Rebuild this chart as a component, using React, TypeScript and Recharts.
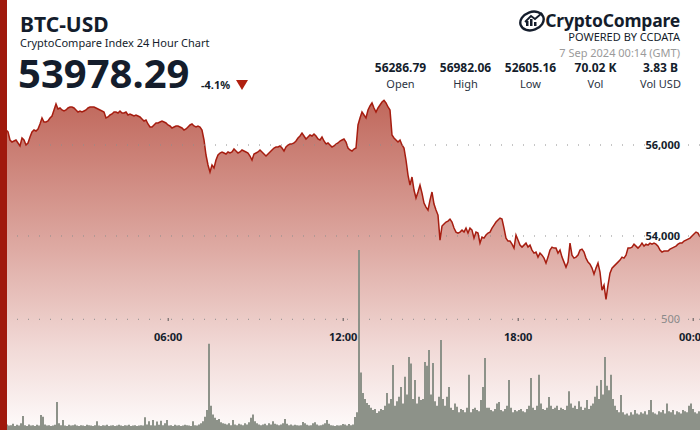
import React from "react";
import { ComposedChart, Area, XAxis, YAxis, ReferenceLine } from "recharts";

// Price (USD) sampled evenly over the 24h window starting 6 Sep 00:14 GMT
const priceValues: number[] = [
  56374, 56396, 56352, 56330, 56287, 56110, 56066, 56088, 56110, 56044,
  55978, 56154, 56110, 56000, 56044, 56176, 56286, 56330, 56308, 56352,
  56462, 56594, 56506, 56506, 56528, 56594, 56638, 56770, 56902, 56792,
  56814, 56770, 56748, 56770, 56814, 56836, 56836, 56814, 56770, 56726,
  56748, 56726, 56748, 56770, 56814, 56836, 56836, 56836, 56814, 56792,
  56770, 56748, 56726, 56594, 56616, 56660, 56682, 56726, 56726, 56704,
  56748, 56704, 56704, 56726, 56660, 56682, 56660, 56638, 56660, 56638,
  56616, 56572, 56528, 56550, 56462, 56396, 56396, 56440, 56484, 56484,
  56506, 56528, 56506, 56484, 56440, 56418, 56374, 56396, 56418, 56418,
  56396, 56374, 56330, 56352, 56396, 56440, 56462, 56418, 56396, 56418,
  56396, 56330, 56110, 55780, 55560, 55406, 55560, 55494, 55670, 55780,
  55824, 55846, 55824, 55802, 55846, 55824, 55846, 55912, 55868, 55824,
  55846, 55890, 55868, 55846, 55824, 55758, 55670, 55802, 55824, 55846,
  55890, 55846, 55802, 55758, 55802, 55846, 55890, 55934, 55956, 55956,
  55978, 55934, 55868, 55956, 56000, 56022, 56022, 56044, 56088, 56154,
  56198, 56264, 56198, 56132, 56176, 56220, 56198, 56242, 56198, 56132,
  56110, 56176, 56088, 56022, 56044, 56000, 55956, 55978, 56022, 56044,
  56088, 56110, 56132, 56066, 55934, 55890, 55868, 55912, 55934, 56440,
  56594, 56726, 56660, 56594, 56770, 56858, 56924, 56814, 56726, 56814,
  56880, 56946, 56982, 56924, 56836, 56770, 56220, 56154, 56110, 56066,
  56110, 56000, 55934, 55670, 55340, 55120, 55296, 55010, 54834, 54966,
  55120, 54944, 54724, 54636, 54570, 54790, 54966, 54702, 54570, 54460,
  53910, 54218, 54262, 54306, 54328, 54372, 54306, 54174, 54086, 54064,
  54086, 54130, 54086, 54174, 54064, 54174, 54130, 53954, 54086, 54064,
  53844, 53976, 53954, 54020, 54064, 54086, 54174, 54240, 54306, 54350,
  54394, 54372, 54174, 53954, 53888, 53888, 53822, 53734, 54020, 53910,
  53800, 53756, 53800, 53844, 53756, 53800, 53690, 53624, 53646, 53536,
  53624, 53580, 53514, 53404, 53536, 53690, 53756, 53734, 53734, 53624,
  53690, 53536, 53426, 53316, 53426, 53844, 53580, 53514, 53536, 53580,
  53690, 53712, 53646, 53514, 53426, 53382, 53294, 53162, 53294, 53404,
  53206, 52810, 52920, 52605, 52920, 53184, 53294, 53338, 53382, 53426,
  53470, 53536, 53514, 53580, 53734, 53734, 53756, 53822, 53778, 53734,
  53778, 53844, 53778, 53822, 53800, 53844, 53822, 53844, 53822, 53778,
  53690, 53646, 53668, 53668, 53668, 53712, 53734, 53756, 53778, 53822,
  53844, 53844, 53888, 53910, 53932, 53954, 53998, 54042, 54086, 54064,
  53978,
];

// Volume (BTC) per sample
const volumeValues: number[] = [
  20, 22, 18, 25, 20, 22, 28, 18, 24, 20,
  30, 63, 22, 18, 25, 20, 22, 18, 24, 20,
  68, 60, 25, 20, 22, 18, 20, 24, 126, 30,
  22, 45, 20, 18, 24, 20, 22, 25, 20, 18,
  22, 20, 18, 24, 22, 20, 18, 22, 40, 20,
  18, 22, 20, 24, 18, 20, 22, 18, 20, 24,
  20, 18, 22, 20, 24, 18, 20, 22, 18, 20,
  22, 20, 58, 25, 40, 22, 45, 20, 38, 24,
  42, 22, 30, 45, 20, 22, 18, 24, 20, 22,
  18, 20, 24, 22, 20, 18, 40, 22, 20, 25,
  30, 40, 60, 90, 390, 110, 70, 55, 45, 50,
  35, 30, 28, 25, 30, 22, 45, 25, 22, 28,
  25, 22, 30, 25, 35, 55, 70, 40, 30, 25,
  22, 25, 28, 22, 30, 25, 40, 28, 25, 22,
  25, 30, 50, 28, 22, 25, 20, 24, 22, 20,
  22, 36, 30, 24, 20, 22, 30, 35, 25, 20,
  22, 25, 30, 45, 28, 22, 20, 18, 22, 20,
  22, 27, 25, 20, 27, 22, 25, 59, 80, 813,
  260, 167, 140, 122, 113, 100, 90, 95, 77, 85,
  95, 90, 110, 167, 120, 140, 294, 110, 130, 150,
  194, 120, 240, 160, 330, 300, 140, 226, 120, 150,
  135, 140, 307, 290, 361, 160, 303, 130, 110, 150,
  406, 140, 110, 150, 194, 100, 90, 120, 105, 80,
  95, 90, 80, 100, 249, 80, 95, 100, 90, 85,
  136, 194, 325, 100, 100, 90, 85, 95, 120, 126,
  90, 85, 95, 110, 226, 100, 80, 90, 85, 90,
  95, 85, 80, 95, 110, 235, 100, 90, 110, 249,
  120, 95, 90, 100, 149, 110, 95, 100, 110, 90,
  100, 95, 90, 110, 175, 120, 100, 110, 95, 130,
  105, 90, 100, 136, 95, 110, 120, 150, 200, 140,
  226, 160, 330, 200, 180, 250, 140, 110, 90, 80,
  158, 80, 70, 75, 65, 80, 70, 90, 75, 70,
  80, 75, 85, 70, 90, 136, 80, 75, 70, 85,
  80, 90, 75, 120, 85, 80, 90, 70, 85, 80,
  75, 90, 85, 80, 110, 120, 95, 80, 75, 85,
  80,
];

// minutes after the window start (00:14) for each labelled hour
const tickMinutes: number[] = [346, 706, 1066, 1426];
const tickLabels: string[] = ["06:00", "12:00", "18:00", "00:00"];
const priceTicks: number[] = [54000, 56000];
const priceTickLabels: string[] = ["54,000", "56,000"];
const volumeTicks: number[] = [500];

const statValues: string[] = ["56286.79", "56982.06", "52605.16", "70.02 K", "3.83 B"];
const statLabels: string[] = ["Open", "High", "Low", "Vol", "Vol USD"];

const WINDOW = 1440;
const data = priceValues.map((p, i) => ({
  t: (i * WINDOW) / (priceValues.length - 1),
  price: p,
  vol: volumeValues[i],
}));

const NAVY = "#141d2c";
const FONT = "'Noto Sans', 'Open Sans', sans-serif";

const timeLabel = (text: string) => (props: any) => {
  const vb = props.viewBox || {};
  const x = vb.x ?? 0;
  return (
    <g>
      <line x1={x} x2={x} y1={318} y2={321} stroke="#555" strokeWidth={1} />
      <text x={x} y={341} textAnchor="middle" fontFamily={FONT} fontWeight={700} fontSize={11} fill={NAVY}>
        {text}
      </text>
    </g>
  );
};

const valueLabel = (text: string, color: string, bold: boolean) => (props: any) => {
  const vb = props.viewBox || {};
  const y = vb.y ?? 0;
  return (
    <text x={680} y={y + 4} textAnchor="end" fontFamily={FONT} fontWeight={bold ? 700 : 400} fontSize={11} fill={color}>
      {text}
    </text>
  );
};

const Logo = () => (
  <svg width={30} height={22} viewBox="0 0 30 22" style={{ position: "absolute", left: 518, top: 10 }}>
    <ellipse cx={14} cy={11} rx={12} ry={9} fill="none" stroke={NAVY} strokeWidth={2.4} transform="rotate(-20 14 11)" />
    <rect x={8} y={11} width={2.5} height={5} fill={NAVY} />
    <rect x={12} y={9} width={2.5} height={7} fill={NAVY} />
    <rect x={16} y={12} width={2.5} height={4} fill={NAVY} />
    <path d="M7 12 L13 6 L17 9 L24 3" fill="none" stroke={NAVY} strokeWidth={1.8} />
  </svg>
);

export default function App() {
  return (
    <div style={{ position: "absolute", left: 0, top: 0, width: 700, height: 430, background: "#fff", overflow: "hidden", fontFamily: FONT }}>
      <ComposedChart width={700} height={430} data={data} margin={{ top: 0, right: 0, bottom: 0, left: 0 }}>
        <defs>
          <linearGradient id="priceFill" x1="0" y1="0" x2="0" y2="1">
            <stop offset="0%" stopColor="#c0685c" />
            <stop offset="45%" stopColor="#deaaa3" />
            <stop offset="75%" stopColor="#f1d9d6" />
            <stop offset="100%" stopColor="#fefbfb" />
          </linearGradient>
        </defs>
        <XAxis dataKey="t" type="number" domain={[0, WINDOW]} ticks={tickMinutes} hide allowDataOverflow />
        <YAxis yAxisId="price" orientation="right" type="number" domain={[49736, 59187]} ticks={priceTicks} hide allowDataOverflow />
        <YAxis yAxisId="vol" orientation="right" type="number" domain={[0, 1942]} ticks={volumeTicks} hide allowDataOverflow />
        <Area
          yAxisId="price"
          type="linear"
          dataKey="price"
          stroke="#a61d10"
          strokeWidth={1.5}
          fill="url(#priceFill)"
          fillOpacity={1}
          isAnimationActive={false}
          dot={false}
          activeDot={false}
        />
        <Area
          yAxisId="vol"
          type="stepAfter"
          dataKey="vol"
          stroke="none"
          fill="#8d9289"
          fillOpacity={1}
          isAnimationActive={false}
          dot={false}
          activeDot={false}
        />
        {priceTicks.map((v, i) => (
          <ReferenceLine
            key={"p" + v}
            yAxisId="price"
            y={v}
            stroke="#8c8c8c"
            strokeDasharray="1 10"
            strokeWidth={1}
            label={valueLabel(priceTickLabels[i], NAVY, true)}
          />
        ))}
        {volumeTicks.map((v) => (
          <ReferenceLine
            key={"v" + v}
            yAxisId="vol"
            y={v}
            stroke="#8c8c8c"
            strokeDasharray="1 10"
            strokeWidth={1}
            label={valueLabel(String(v), "#8a8a8a", false)}
          />
        ))}
        {tickMinutes.map((m, i) => (
          <ReferenceLine key={"x" + m} yAxisId="price" x={m} stroke="none" label={timeLabel(tickLabels[i])} />
        ))}
      </ComposedChart>

      <div style={{ position: "absolute", left: 0, top: 0, width: 7, height: 430, background: "#a0190d" }} />

      <div style={{ position: "absolute", left: 20, top: 14, fontSize: 21, fontWeight: 700, color: NAVY, lineHeight: "21px" }}>BTC-USD</div>
      <div style={{ position: "absolute", left: 20, top: 36, fontSize: 11, color: NAVY, lineHeight: "13px" }}>CryptoCompare Index 24 Hour Chart</div>
      <div style={{ position: "absolute", left: 18, top: 53, fontSize: 40, fontWeight: 700, color: NAVY, lineHeight: "40px" }}>53978.29</div>
      <div style={{ position: "absolute", left: 201, top: 78, fontSize: 11, fontWeight: 700, color: NAVY, lineHeight: "13px" }}>-4.1%</div>
      <svg width={12} height={10} style={{ position: "absolute", left: 236, top: 80 }}>
        <polygon points="0,0 12,0 6,10" fill="#b0200f" />
      </svg>

      <Logo />
      <div style={{ position: "absolute", right: 20, top: 10, fontSize: 17.5, fontWeight: 700, color: NAVY, lineHeight: "20px", letterSpacing: -0.2 }}>CryptoCompare</div>
      <div style={{ position: "absolute", right: 20, top: 30, fontSize: 11, color: NAVY, lineHeight: "13px" }}>POWERED BY CCDATA</div>
      <div style={{ position: "absolute", right: 20, top: 46, fontSize: 11, color: "#9a9a9a", lineHeight: "13px" }}>7 Sep 2024 00:14 (GMT)</div>

      {statValues.map((v, i) => (
        <div key={v} style={{ position: "absolute", left: 368 + i * 65, top: 61, width: 65, textAlign: "center", fontSize: 12, fontWeight: 700, color: NAVY, lineHeight: "14px" }}>{v}</div>
      ))}
      {statLabels.map((l, i) => (
        <div key={l} style={{ position: "absolute", left: 368 + i * 65, top: 77, width: 65, textAlign: "center", fontSize: 11, color: "#2a3342", lineHeight: "13px" }}>{l}</div>
      ))}
    </div>
  );
}
